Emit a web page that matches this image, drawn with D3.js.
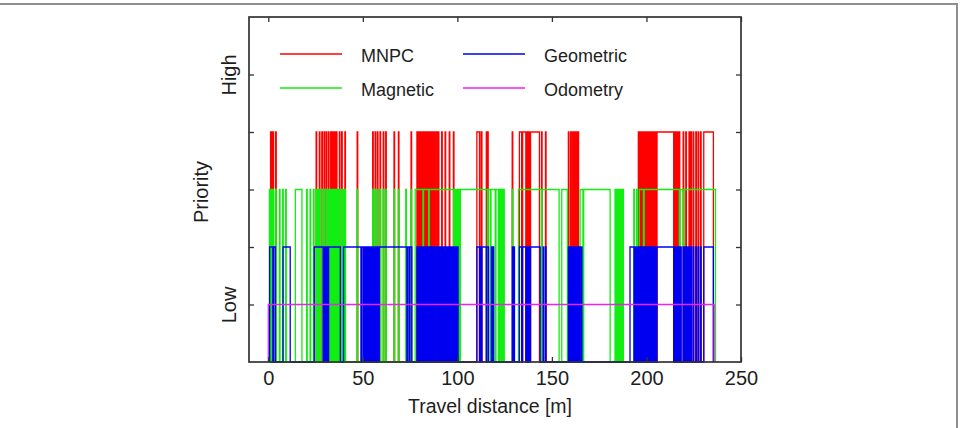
<!DOCTYPE html>
<html>
<head>
<meta charset="utf-8">
<script src="https://cdn.jsdelivr.net/npm/d3@7"></script>
<style>
  body { margin: 0; background: #fff; }
  svg text { font-family: "Liberation Sans", Arial, sans-serif; fill: #1e1e1e; }
</style>
</head>
<body>
<svg id="chart" width="960" height="428"></svg>
<script>
// each series: on-intervals in metres, written as start,end,start,end,...
const mnpc = [
  1.2,1.6, 1.9,2.3, 2.5,2.8, 3.9,4.2,
  25.3,25.6, 27.0,27.3, 28.3,28.6, 29.5,29.8, 30.6,30.9, 31.8,32.1, 33.0,33.5, 33.9,34.4, 34.8,35.3, 35.7,36.3, 37.6,37.9, 38.8,39.1, 40.5,40.8,
  47.0,47.3,
  55.2,55.5, 56.5,56.8, 57.7,58.0, 59.1,59.4, 60.8,61.1, 62.1,62.4,
  66.5,66.8, 68.8,69.1, 75.5,75.8,
  78.6,79.1, 79.5,80.0, 80.4,80.9, 81.3,81.8, 82.2,82.7, 83.1,83.6, 84.0,84.5, 84.9,85.4, 85.8,86.3, 86.7,87.2, 87.6,88.1, 88.5,89.2,
  89.9,90.2, 91.7,92.0, 93.5,93.8, 95.7,96.0, 97.9,98.2,
  110.3,111.7, 112.5,113.0, 115.3,115.6, 115.9,116.3,
  129.0,129.3,
  132.8,134.0, 134.5,136.2, 136.7,137.1, 137.4,137.8, 138.1,138.5, 138.7,143.4,
  144.5,144.8, 146.6,146.9,
  158.7,159.0, 159.9,160.2, 160.9,161.3, 161.6,162.0, 162.3,162.7, 163.0,163.4, 163.7,164.1,
  195.7,196.2, 196.6,197.1, 197.5,198.0, 198.4,198.9, 199.3,199.8, 200.2,200.7, 201.1,201.6, 202.0,202.5, 202.9,203.4, 203.8,204.3, 204.7,205.2,
  205.6,214.4, 214.8,215.2, 215.6,216.0, 216.4,216.8, 217.2,217.6,
  219.4,219.7, 220.8,221.1, 222.5,222.8, 223.5,223.8, 224.7,225.0, 226.1,226.4, 227.3,227.6, 228.6,228.9, 230.3,235.4
];

const magnetic = [
  0.6,0.9, 1.2,1.6, 1.9,2.3, 2.5,2.8, 3.9,4.2, 5.9,6.2, 7.6,7.9, 9.2,9.5,
  14.3,17.8,
  20.3,20.6, 22.1,22.4, 23.9,24.2,
  25.3,25.6, 26.2,26.5, 27.0,27.3, 28.3,28.6, 29.5,29.8, 30.6,30.9, 31.8,32.1, 32.5,32.8, 33.0,33.5, 33.9,34.4, 34.8,35.3, 35.7,36.3, 36.8,37.1, 37.6,37.9, 38.8,39.1, 39.6,39.9, 40.5,40.8,
  47.0,47.3,
  55.2,55.5, 56.5,56.8, 57.7,58.0, 59.1,59.4, 60.8,61.1, 62.1,62.4,
  66.5,66.8, 68.8,69.1, 72.7,73.0, 75.5,75.8,
  77.7,81.8, 82.1,84.8, 85.1,98.0, 98.4,98.8, 99.2,99.6, 100.0,100.4, 100.8,101.2,
  101.6,115.9, 116.3,117.4, 117.8,120.0, 120.4,121.7, 122.0,122.4, 122.8,123.2, 123.6,124.0, 124.4,124.8,
  129.0,129.3,
  132.3,144.5, 144.8,153.8, 155.2,158.2, 164.9,166.4, 166.8,180.8,
  183.4,183.8, 184.2,184.6, 185.0,185.4, 185.8,186.2, 186.6,187.0, 187.4,187.8,
  193.3,193.6, 194.8,195.1,
  196.2,198.4, 198.8,217.4, 217.8,219.5, 219.9,236.5
];

const geometric = [
  0.7,2.4, 2.8,3.7, 7.8,11.6,
  24.3,29.0, 29.4,29.8, 30.2,30.6, 31.0,31.4, 31.9,38.1, 39.8,49.0, 49.4,50.2,
  50.7,51.0, 51.5,51.8, 52.3,52.6, 53.0,53.3, 53.9,54.3, 54.7,55.1, 55.5,55.9, 56.3,56.7, 57.1,57.5, 57.9,58.3, 58.7,73.3, 73.7,74.5, 74.9,75.9,
  78.6,79.1, 79.5,80.0, 80.4,80.9, 81.3,81.8, 82.2,82.7, 83.1,83.6, 84.0,84.5, 84.9,85.4, 85.8,86.3, 86.7,87.2, 87.6,88.1, 88.5,89.2,
  89.9,90.2, 90.9,91.3, 91.7,92.0, 92.5,92.9, 93.5,93.8, 94.1,94.5, 94.9,95.3, 95.7,96.0, 96.5,96.9, 97.3,97.6, 97.9,98.2, 98.6,98.9, 99.3,99.6, 100.1,100.4,
  110.3,111.7, 112.0,112.5, 113.0,115.3, 115.6,116.5, 118.0,118.3, 118.9,119.2,
  129.1,129.5, 129.8,130.2,
  132.8,134.0, 134.5,136.2, 136.7,137.1, 137.4,137.8, 138.1,138.5, 138.7,143.8, 145.4,145.7, 146.6,146.9,
  158.7,159.0, 159.4,159.8, 160.1,160.5, 160.9,161.3, 161.6,162.0, 162.3,162.7, 163.0,163.4, 163.7,164.1, 164.5,164.9, 165.6,165.9,
  191.3,193.4, 193.8,194.2, 194.6,195.0,
  195.7,196.2, 196.6,197.1, 197.5,198.0, 198.4,198.9, 199.3,199.8, 200.2,200.7, 201.1,201.6, 202.0,202.5, 202.9,203.4, 203.8,204.3, 204.7,205.2,
  205.6,214.4, 214.8,215.2, 215.6,216.0, 216.4,216.8, 217.2,217.6, 218.0,218.4,
  219.4,219.7, 220.0,220.4, 220.8,221.1, 221.5,221.9, 222.5,222.8, 223.5,223.8, 224.7,225.0, 226.1,226.4, 227.3,227.6, 228.6,228.9, 230.3,235.4
];

const odometry = [0, 235.8];

const seriesNames = ["MNPC", "Magnetic", "Geometric", "Odometry"];
const seriesLevels = [4, 3, 2, 1];
const seriesColors = ["#ff0000", "#11ee11", "#0000f0", "#ee22ee"];
const xTicks = [0, 50, 100, 150, 200, 250];
const yTicks = [1, 2, 3, 4, 5];
const yTickLabels = ["Low", "", "", "", "High"];

const svg = d3.select("#chart");
svg.append("rect").attr("width", 960).attr("height", 428).attr("fill", "#fff");

// frame of the page the figure sits in
svg.append("path")
  .attr("d", "M0,4H957V428")
  .attr("fill", "none")
  .attr("stroke", "#8f8f8f")
  .attr("stroke-width", 2);

const x = d3.scaleLinear().domain([-10.2, 250]).range([249, 741]);
const y = d3.scaleLinear().domain([0, 6]).range([362, 17]);

// turn on-intervals into step points
function stepPoints(iv, level) {
  let pts = [[iv[0], 0]];
  for (let i = 0; i < iv.length; i++) {
    pts.push([iv[i], i % 2 == 0 ? level : 0]);
  }
  return pts;
}

const line = d3.line()
  .x(d => x(d[0]))
  .y(d => y(d[1]))
  .curve(d3.curveStepAfter);

const allSeries = [mnpc, magnetic, geometric, odometry];
allSeries.forEach((iv, i) => {
  svg.append("path")
    .attr("d", line(stepPoints(iv, seriesLevels[i])))
    .attr("fill", "none")
    .attr("stroke", seriesColors[i])
    .attr("stroke-width", 1.3);
});

// axes, ticks pointing inward on all four sides
const axisColor = "#333";
const gx = svg.append("g").attr("transform", `translate(0,${y(0)})`)
  .call(d3.axisBottom(x).tickValues(xTicks).tickSizeInner(-5).tickSizeOuter(0).tickPadding(9));
gx.selectAll("text").style("font-size", "20px");

const gt = svg.append("g").attr("transform", `translate(0,${y(6)})`)
  .call(d3.axisTop(x).tickValues(xTicks).tickSizeInner(-5).tickSizeOuter(0).tickFormat(""));

const gy = svg.append("g").attr("transform", `translate(${x(-10.2)},0)`)
  .call(d3.axisLeft(y).tickValues(yTicks).tickSizeInner(-5).tickSizeOuter(0).tickFormat((d, i) => yTickLabels[i]));
gy.selectAll("text")
  .attr("transform", "rotate(-90)")
  .attr("x", 0).attr("y", -13).attr("dy", 0)
  .attr("text-anchor", "middle")
  .style("font-size", "20px");

const gr = svg.append("g").attr("transform", `translate(${x(250)},0)`)
  .call(d3.axisRight(y).tickValues(yTicks).tickSizeInner(-5).tickSizeOuter(0).tickFormat(""));

[gx, gt, gy, gr].forEach(g => {
  g.select(".domain").remove();
  g.selectAll("line").attr("stroke", axisColor).attr("stroke-width", 1.3);
  g.selectAll("text").attr("fill", "#1e1e1e");
});

svg.append("rect")
  .attr("x", x(-10.2)).attr("y", y(6))
  .attr("width", x(250) - x(-10.2)).attr("height", y(0) - y(6))
  .attr("fill", "none").attr("stroke", axisColor).attr("stroke-width", 1.7);

svg.append("text")
  .attr("x", 490).attr("y", 413)
  .attr("text-anchor", "middle")
  .style("font-size", "19.5px")
  .text("Travel distance [m]");

svg.append("text")
  .attr("transform", "translate(208,192) rotate(-90)")
  .attr("text-anchor", "middle")
  .style("font-size", "20px")
  .text("Priority");

// legend, two columns inside the plot
const legX = [280, 463];
const legY = [54, 88];
seriesNames.forEach((name, i) => {
  const lx = legX[i < 2 ? 0 : 1];
  const ly = legY[i % 2];
  svg.append("line")
    .attr("x1", lx).attr("x2", lx + 62)
    .attr("y1", ly).attr("y2", ly)
    .attr("stroke", seriesColors[i]).attr("stroke-width", 1.4);
  svg.append("text")
    .attr("x", lx + 81).attr("y", ly + 8)
    .style("font-size", "18px")
    .text(name);
});
</script>
</body>
</html>
